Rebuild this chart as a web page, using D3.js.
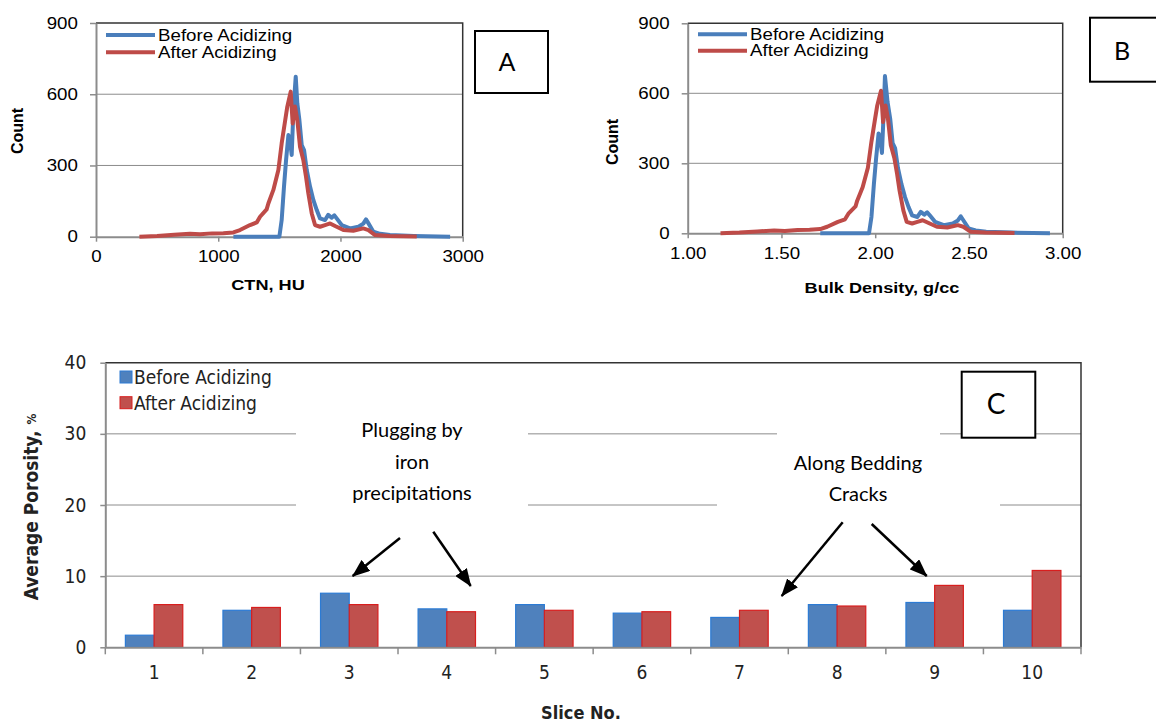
<!DOCTYPE html>
<meta charset="utf-8">
<style>
body { margin: 0; background: #fff; }
svg { display: block; }
.arial { font-family: "Liberation Sans", Arial, sans-serif; }
.narrow { font-family: "Liberation Sans Narrow", "Arial Narrow", "DejaVu Sans Condensed", sans-serif; }
.note { font-family: Lato, "Open Sans", sans-serif; fill: #000; }
.grid line { stroke: #8c8c8c; stroke-width: 1; }
</style>
<svg width="1156" height="722"></svg>
<script src="https://d3js.org/d3.v7.min.js"></script>
<script>
// ---- data ----
var seriesNames = ["Before Acidizing", "After Acidizing"];
var seriesColors = ["#4a7ebb", "#be4b48"];

// histogram before acidizing (CTN, HU / bulk density, g/cc / count)
var beforeCtn = [1124, 1500, 1519, 1538, 1555, 1574, 1587, 1601, 1615, 1634, 1647, 1664, 1683, 1702, 1724, 1751, 1778, 1806, 1833, 1874, 1900, 1928, 1950, 1969, 2010, 2078, 2147, 2187, 2209, 2229, 2269, 2324, 2405, 2600, 2897];
var beforeDensity = [1.707, 1.967, 1.980, 1.993, 2.005, 2.018, 2.027, 2.036, 2.046, 2.052, 2.066, 2.080, 2.093, 2.106, 2.121, 2.140, 2.159, 2.178, 2.197, 2.225, 2.243, 2.262, 2.277, 2.291, 2.319, 2.366, 2.414, 2.441, 2.456, 2.470, 2.498, 2.536, 2.592, 2.727, 2.932];
var beforeCount = [0, 0, 70, 211, 323, 428, 407, 344, 534, 674, 562, 491, 386, 365, 281, 211, 155, 112, 77, 70, 92, 80, 90, 77, 49, 35, 42, 55, 73, 56, 21, 12, 7, 3, 0];

// histogram after acidizing
var afterCtn = [355, 500, 640, 769, 851, 950, 1042, 1124, 1178, 1260, 1315, 1342, 1396, 1410, 1451, 1492, 1519, 1546, 1565, 1593, 1609, 1628, 1647, 1669, 1696, 1718, 1737, 1765, 1792, 1833, 1874, 1915, 1956, 2024, 2105, 2187, 2229, 2283, 2400, 2624];
var afterDensity = [1.175, 1.276, 1.372, 1.461, 1.518, 1.586, 1.650, 1.707, 1.744, 1.801, 1.839, 1.857, 1.895, 1.904, 1.933, 1.961, 1.980, 1.998, 2.011, 2.031, 2.042, 2.055, 2.068, 2.083, 2.102, 2.117, 2.130, 2.150, 2.168, 2.197, 2.225, 2.253, 2.282, 2.329, 2.385, 2.441, 2.470, 2.508, 2.588, 2.743];
var afterCount = [0, 3, 8, 12, 10, 14, 15, 18, 28, 49, 60, 84, 115, 140, 197, 281, 393, 484, 548, 611, 477, 548, 491, 379, 323, 253, 183, 98, 49, 42, 49, 56, 45, 28, 25, 35, 28, 7, 3, 1];

var countTicks = [0, 300, 600, 900];
var ctnTicks = [0, 1000, 2000, 3000];
var densityTicks = [1.0, 1.5, 2.0, 2.5, 3.0];

// average porosity per slice
var slices = ["1", "2", "3", "4", "5", "6", "7", "8", "9", "10"];
var porosityBefore = [1.7, 5.2, 7.6, 5.4, 6.0, 4.8, 4.2, 6.0, 6.3, 5.2];
var porosityAfter = [6.0, 5.6, 6.0, 5.0, 5.2, 5.0, 5.2, 5.8, 8.7, 10.8];
var porosityTicks = [0, 10, 20, 30, 40];

// ---- drawing ----
var svg = d3.select("svg");
var defs = svg.append("defs");
defs.append("marker")
    .attr("id", "arrow")
    .attr("markerUnits", "userSpaceOnUse")
    .attr("viewBox", "0 0 18 14")
    .attr("markerWidth", 18).attr("markerHeight", 14)
    .attr("refX", 17).attr("refY", 7)
    .attr("orient", "auto")
  .append("path").attr("d", "M0,0 L18,7 L0,14 z").attr("fill", "#000");

var K = 1.17; // the histogram panels are stretched horizontally

function stretchedText(g, x, y, txt, size, opts) {
  opts = opts || {};
  return g.append("text")
      .attr("class", "arial")
      .attr("transform", "translate(" + x + "," + y + ") scale(" + K + ",1)")
      .attr("text-anchor", opts.anchor || "start")
      .style("font-size", size + "px")
      .style("font-weight", opts.bold ? "bold" : "normal")
      .text(txt);
}

function histPanel(cfg) {
  var g = svg.append("g");
  var x = d3.scaleLinear().domain(cfg.xDomain).range([cfg.left, cfg.right]);
  var y = d3.scaleLinear().domain([0, 900]).range([cfg.bottom, cfg.top]);

  g.append("g").attr("class", "grid")
    .selectAll("line").data(countTicks.slice(1, 3)).enter().append("line")
      .attr("x1", cfg.left).attr("x2", cfg.right)
      .attr("y1", function(d) { return y(d); }).attr("y2", function(d) { return y(d); });

  // plot frame top/right
  g.append("path")
      .attr("d", "M" + cfg.left + "," + cfg.top + "H" + cfg.right + "V" + cfg.bottom)
      .attr("fill", "none").attr("stroke", "#333").attr("stroke-width", 1.5);

  var ya = g.append("g").attr("transform", "translate(" + cfg.left + ",0)")
      .call(d3.axisLeft(y).tickValues(countTicks).tickSize(6).tickPadding(9.5).tickSizeOuter(0));
  var xa = g.append("g").attr("transform", "translate(0," + cfg.bottom + ")")
      .call(d3.axisBottom(x).tickValues(cfg.xTicks).tickSize(5).tickPadding(9).tickSizeOuter(0)
        .tickFormat(cfg.xFormat));
  [ya, xa].forEach(function(a) {
    a.select(".domain").attr("stroke", "#8c8c8c").attr("stroke-width", 2);
    a.selectAll(".tick line").attr("stroke", "#8c8c8c").attr("stroke-width", 1.5);
    a.selectAll("text").attr("class", "arial").attr("fill", "#000")
      .style("font-size", "16px").attr("transform", "scale(" + K + ",1)");
  });

  var line = d3.line().x(function(d) { return x(d[0]); }).y(function(d) { return y(d[1]); });
  cfg.series.forEach(function(s, i) {
    var pts = d3.zip(s.xs, s.counts);
    g.append("path").datum(pts)
        .attr("d", line)
        .attr("fill", "none")
        .attr("stroke", seriesColors[i])
        .attr("stroke-width", 4)
        .attr("stroke-linejoin", "round");
  });

  // legend
  seriesNames.forEach(function(n, i) {
    var ly = cfg.legY + i * cfg.legStep;
    g.append("line").attr("x1", cfg.legX).attr("x2", cfg.legX + 49)
        .attr("y1", ly).attr("y2", ly)
        .attr("stroke", seriesColors[i]).attr("stroke-width", 4);
    stretchedText(g, cfg.legX + 52, ly + 5.5, n, 16);
  });

  g.append("text").attr("class", "arial")
      .attr("transform", "translate(" + cfg.yLabX + "," + cfg.yLabY + ") rotate(-90)")
      .attr("text-anchor", "middle").style("font-size", "16px").style("font-weight", "bold")
      .text("Count");
  stretchedText(g, cfg.xLabX, cfg.xLabY, cfg.xLabel, 15.5, {anchor: "middle", bold: true});

  // letter box
  g.append("rect").attr("x", cfg.box[0]).attr("y", cfg.box[1])
      .attr("width", cfg.box[2]).attr("height", cfg.box[3])
      .attr("fill", "#fff").attr("stroke", "#000").attr("stroke-width", 2);
  g.append("text").attr("class", "note")
      .attr("x", cfg.box[0] + cfg.box[4]).attr("y", cfg.box[1] + cfg.box[5])
      .attr("text-anchor", "middle").style("font-size", "25px")
      .text(cfg.letter);
}

histPanel({
  xDomain: [0, 3000], xTicks: ctnTicks, xFormat: d3.format("d"),
  left: 96, right: 462.7, top: 23, bottom: 236.7,
  series: [{xs: beforeCtn, counts: beforeCount}, {xs: afterCtn, counts: afterCount}],
  legX: 106, legY: 35, legStep: 17.3,
  yLabX: 23, yLabY: 131, xLabX: 268, xLabY: 290, xLabel: "CTN, HU",
  box: [475, 31, 73, 62, 32, 40], letter: "A"
});

histPanel({
  xDomain: [1, 3], xTicks: densityTicks, xFormat: d3.format(".2f"),
  left: 687.7, right: 1062.7, top: 23.3, bottom: 233.3,
  series: [{xs: beforeDensity, counts: beforeCount}, {xs: afterDensity, counts: afterCount}],
  legX: 698, legY: 34.3, legStep: 16.4,
  yLabX: 618, yLabY: 142, xLabX: 882, xLabY: 293, xLabel: "Bulk Density, g/cc",
  box: [1090, 17.7, 80, 64, 32, 42], letter: "B"
});

// ---- panel C: bars ----
var cL = 105.3, cR = 1081, cT = 362.7, cB = 647.3;
var gc = svg.append("g");
var xc = d3.scaleBand().domain(slices).range([cL, cR]);
var xs = d3.scaleBand().domain([0, 1]).range([0, xc.bandwidth()]).paddingOuter(0.7);
var yc = d3.scaleLinear().domain([0, 40]).range([cB, cT]);

gc.append("g").attr("class", "grid")
  .selectAll("line").data(porosityTicks.slice(1, 4)).enter().append("line")
    .attr("x1", cL).attr("x2", cR)
    .attr("y1", function(d) { return yc(d); }).attr("y2", function(d) { return yc(d); });

// white text-box backgrounds hiding parts of the grid
gc.append("rect").attr("x", 296).attr("y", 412).attr("width", 232).attr("height", 106).attr("fill", "#fff");
gc.append("rect").attr("x", 777).attr("y", 420).attr("width", 163).attr("height", 40).attr("fill", "#fff");
gc.append("rect").attr("x", 717).attr("y", 455).attr("width", 283).attr("height", 62).attr("fill", "#fff");

gc.append("path")
    .attr("d", "M" + cL + "," + cT + "H" + cR + "V" + cB)
    .attr("fill", "none").attr("stroke", "#333").attr("stroke-width", 1.5);

var bars = [porosityBefore, porosityAfter];
var barStroke = ["#2c7bd4", "#d81e1e"];
var barFill = ["#4f81bd", "#c0504d"];
bars.forEach(function(vals, si) {
  gc.append("g").selectAll("rect").data(vals).enter().append("rect")
      .attr("x", function(d, i) { return xc(slices[i]) + xs(si); })
      .attr("width", xs.bandwidth())
      .attr("y", function(d) { return yc(d); })
      .attr("height", function(d) { return cB - yc(d); })
      .attr("fill", barFill[si]).attr("stroke", barStroke[si]).attr("stroke-width", 1.2);
});

var yca = gc.append("g").attr("transform", "translate(" + cL + ",0)")
    .call(d3.axisLeft(yc).tickValues(porosityTicks).tickSize(5).tickPadding(14).tickSizeOuter(0));
var xca = gc.append("g").attr("transform", "translate(0," + cB + ")")
    .call(d3.axisBottom(xc).tickSize(0).tickPadding(18));
xca.selectAll(".tick line").remove();
xca.append("g").selectAll("line").data(slices.concat(["end"])).enter().append("line")
    .attr("x1", function(d, i) { return cL + i * xc.step(); })
    .attr("x2", function(d, i) { return cL + i * xc.step(); })
    .attr("y1", 0).attr("y2", 7)
    .attr("stroke", "#8c8c8c").attr("stroke-width", 1.5);
[yca, xca].forEach(function(a) {
  a.select(".domain").attr("stroke", "#8c8c8c").attr("stroke-width", 2);
  a.selectAll(".tick line").attr("stroke", "#8c8c8c").attr("stroke-width", 1.5);
  a.selectAll("text").attr("class", "narrow").attr("fill", "#222").style("font-size", "19px");
});

// legend C
seriesNames.forEach(function(n, i) {
  var ly = 371 + i * 25.7;
  gc.append("rect").attr("x", 120).attr("y", ly).attr("width", 12).attr("height", 12)
      .attr("fill", barFill[i]).attr("stroke", barStroke[i]).attr("stroke-width", 1);
  gc.append("text").attr("class", "narrow").attr("x", 134).attr("y", ly + 13)
      .style("font-size", "19px").attr("fill", "#222")
      .text(n);
});

// axis titles C
var yt = gc.append("text").attr("class", "narrow")
    .attr("transform", "translate(38,507) rotate(-90)")
    .attr("text-anchor", "middle").style("font-weight", "bold").attr("fill", "#222");
yt.append("tspan").style("font-size", "19px").text("Average Porosity,");
yt.append("tspan").style("font-size", "12px").attr("dx", 6).attr("dy", -2).text("%");
gc.append("text").attr("class", "narrow").attr("x", 581).attr("y", 719)
    .attr("text-anchor", "middle").style("font-size", "18px").style("font-weight", "bold")
    .attr("fill", "#222")
    .text("Slice No.");

// annotations
function noteLines(lines, cx, y0, step) {
  lines.forEach(function(t, i) {
    gc.append("text").attr("class", "note").attr("x", cx).attr("y", y0 + i * step)
        .attr("text-anchor", "middle").style("font-size", "20px").text(t);
  });
}
noteLines(["Plugging by", "iron", "precipitations"], 412, 437, 31.5);
noteLines(["Along Bedding", "Cracks"], 858, 470, 30.7);

var arrows = [[400, 538, 352.7, 576], [433.3, 531.7, 470.7, 586], [842.7, 522.3, 781.7, 596], [871.7, 524, 926.7, 576]];
gc.selectAll("line.arrow").data(arrows).enter().append("line")
    .attr("class", "arrow")
    .attr("x1", function(d) { return d[0]; }).attr("y1", function(d) { return d[1]; })
    .attr("x2", function(d) { return d[2]; }).attr("y2", function(d) { return d[3]; })
    .attr("stroke", "#000").attr("stroke-width", 2.5)
    .attr("marker-end", "url(#arrow)");

gc.append("rect").attr("x", 961.7).attr("y", 371.7).attr("width", 73.6).attr("height", 66)
    .attr("fill", "#fff").attr("stroke", "#000").attr("stroke-width", 2);
gc.append("text").attr("class", "note").attr("x", 996).attr("y", 413.5)
    .attr("text-anchor", "middle").style("font-size", "28px").text("C");
</script>
